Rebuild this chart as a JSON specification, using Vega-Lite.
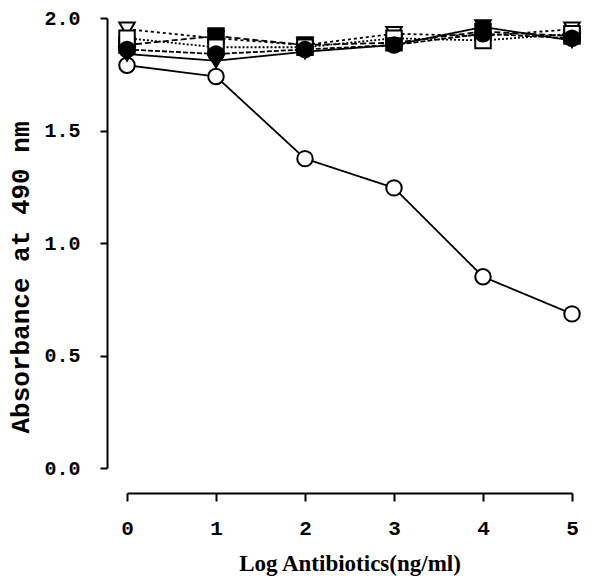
{
  "$schema": "https://vega.github.io/schema/vega-lite/v6.json",
  "width": 445,
  "height": 450,
  "autosize": "none",
  "padding": {"left": 127, "top": 18, "right": 32, "bottom": 114},
  "background": "white",
  "config": {
    "view": {"stroke": null},
    "axis": {"grid": false, "domainColor": "black", "tickColor": "black", "labelColor": "black", "titleColor": "black", "domainWidth": 2, "tickWidth": 2}
  },
  "data": {"values": [
    {"series": "A", "x": 0, "y": 1.79},
    {"series": "A", "x": 1, "y": 1.74},
    {"series": "A", "x": 2, "y": 1.375},
    {"series": "A", "x": 3, "y": 1.245},
    {"series": "A", "x": 4, "y": 0.85},
    {"series": "A", "x": 5, "y": 0.685},
    {"series": "B", "x": 0, "y": 1.95},
    {"series": "B", "x": 1, "y": 1.91},
    {"series": "B", "x": 2, "y": 1.88},
    {"series": "B", "x": 3, "y": 1.93},
    {"series": "B", "x": 4, "y": 1.92},
    {"series": "B", "x": 5, "y": 1.95},
    {"series": "C", "x": 0, "y": 1.88},
    {"series": "C", "x": 1, "y": 1.92},
    {"series": "C", "x": 2, "y": 1.88},
    {"series": "C", "x": 3, "y": 1.89},
    {"series": "C", "x": 4, "y": 1.94},
    {"series": "C", "x": 5, "y": 1.92},
    {"series": "D", "x": 0, "y": 1.91},
    {"series": "D", "x": 1, "y": 1.87},
    {"series": "D", "x": 2, "y": 1.87},
    {"series": "D", "x": 3, "y": 1.91},
    {"series": "D", "x": 4, "y": 1.90},
    {"series": "D", "x": 5, "y": 1.93},
    {"series": "E", "x": 0, "y": 1.84},
    {"series": "E", "x": 1, "y": 1.81},
    {"series": "E", "x": 2, "y": 1.85},
    {"series": "E", "x": 3, "y": 1.88},
    {"series": "E", "x": 4, "y": 1.96},
    {"series": "E", "x": 5, "y": 1.90},
    {"series": "F", "x": 0, "y": 1.86},
    {"series": "F", "x": 1, "y": 1.84},
    {"series": "F", "x": 2, "y": 1.86},
    {"series": "F", "x": 3, "y": 1.88},
    {"series": "F", "x": 4, "y": 1.93},
    {"series": "F", "x": 5, "y": 1.91}
  ]},
  "encoding": {
    "x": {"field": "x", "type": "quantitative", "scale": {"domain": [0, 5]},
      "axis": {"values": [0, 1, 2, 3, 4, 5], "format": "d", "offset": 25, "tickSize": 8, "labelPadding": 16, "titlePadding": 14, "labelFont": "Liberation Mono", "labelFontSize": 21, "labelFontWeight": "bold", "labelFlush": false, "title": "Log Antibiotics(ng/ml)", "titleFont": "Liberation Serif", "titleFontSize": 23, "titleFontWeight": "bold"}},
    "y": {"field": "y", "type": "quantitative", "scale": {"domain": [0, 2]},
      "axis": {"values": [0, 0.5, 1, 1.5, 2], "format": ".1f", "offset": 20, "tickSize": 7, "labelPadding": 20, "titlePadding": 10, "labelFont": "Liberation Mono", "labelFontSize": 20, "labelFontWeight": "bold", "title": "Absorbance at 490 nm", "titleFont": "Liberation Mono", "titleFontSize": 26, "titleFontWeight": "bold", "titleY": 259}}
  },
  "layer": [
    {
      "mark": {"type": "line", "strokeWidth": 1.8, "color": "black"},
      "encoding": {
        "detail": {"field": "series"},
        "strokeDash": {"field": "series", "type": "nominal", "legend": null,
          "scale": {"domain": ["A", "B", "C", "D", "E", "F"], "range": [[1, 0], [3, 3], [6, 3], [2, 2], [1, 0], [5, 2]]}}
      }
    },
    {
      "mark": {"type": "point", "filled": true, "size": 240, "stroke": "black", "strokeWidth": 2, "opacity": 1},
      "encoding": {
        "shape": {"field": "series", "type": "nominal", "legend": null,
          "scale": {"domain": ["A", "B", "C", "D", "E", "F"], "range": ["circle", "triangle-down", "square", "square", "triangle-down", "circle"]}},
        "fill": {"field": "series", "type": "nominal", "legend": null,
          "scale": {"domain": ["A", "B", "C", "D", "E", "F"], "range": ["white", "white", "black", "white", "black", "black"]}}
      }
    }
  ]
}
